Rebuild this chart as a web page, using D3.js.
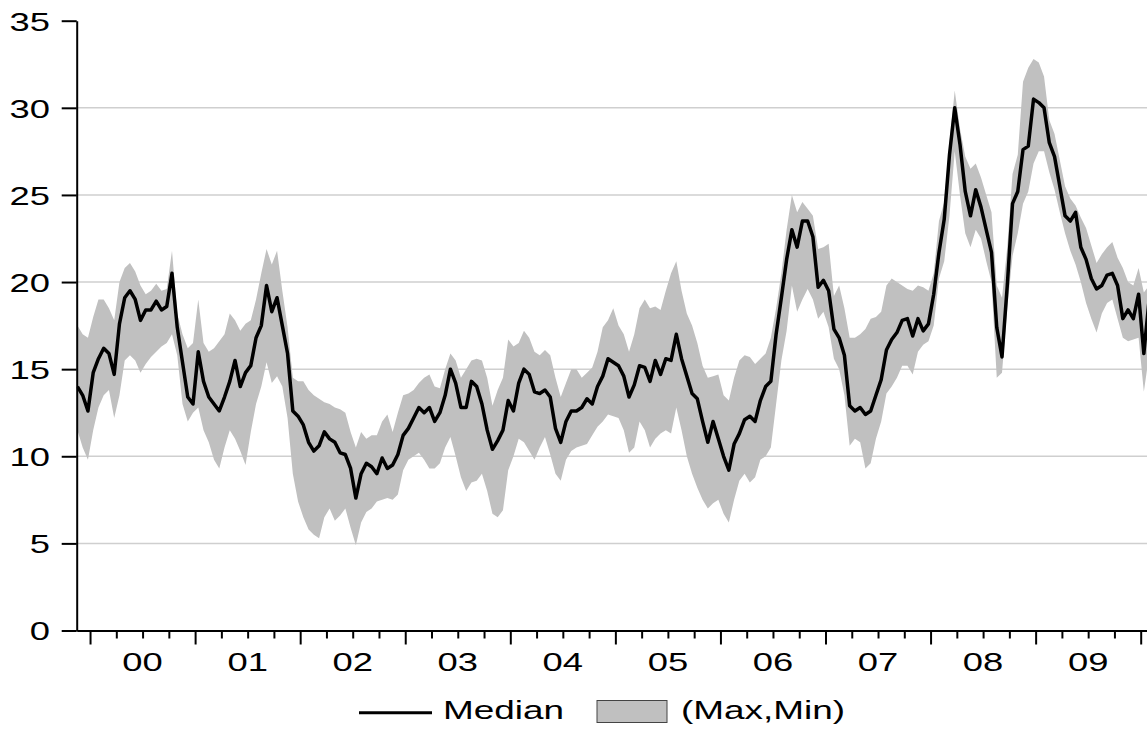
<!DOCTYPE html>
<html>
<head>
<meta charset="utf-8">
<script src="https://cdn.jsdelivr.net/npm/d3@7"></script>
<style>
  body { margin: 0; background: #fff; }
  text { font-family: Arial, "Liberation Sans", sans-serif; fill: #000; }
</style>
</head>
<body>
<script>
// daily series, one value every 0.05 year from late 1999
var startYear = 1999.88;
var stepYears = 0.05;

var median = [
  14.0, 13.5, 12.6, 14.8, 15.6, 16.2, 15.9, 14.7, 17.6, 19.1,
  19.5, 19.0, 17.8, 18.4, 18.4, 18.9, 18.4, 18.6, 20.5, 17.4,
  15.4, 13.4, 13.0, 16.0, 14.3, 13.4, 13.0, 12.6, 13.4, 14.3,
  15.5, 14.0, 14.8, 15.2, 16.8, 17.5, 19.8, 18.3, 19.1, 17.5,
  15.9, 12.6, 12.3, 11.8, 10.8, 10.3, 10.6, 11.4, 11.0, 10.8,
  10.2, 10.1, 9.3, 7.6, 9.0, 9.6, 9.4, 9.0, 9.9, 9.3,
  9.5, 10.1, 11.2, 11.6, 12.2, 12.8, 12.5, 12.8, 12.0, 12.5,
  13.5, 15.0, 14.2, 12.8, 12.8, 14.3, 14.0, 13.0, 11.5, 10.4,
  10.9, 11.5, 13.2, 12.6, 14.2, 15.0, 14.7, 13.7, 13.6, 13.8,
  13.4, 11.6, 10.8, 12.0, 12.6, 12.6, 12.8, 13.3, 13.0, 14.0,
  14.6, 15.6, 15.4, 15.2, 14.6, 13.4, 14.1, 15.2, 15.1, 14.3,
  15.5, 14.7, 15.6, 15.5, 17.0, 15.6, 14.6, 13.6, 13.3, 12.0,
  10.8, 12.0, 11.0, 10.0, 9.2, 10.7, 11.3, 12.1, 12.3, 12.0,
  13.2, 14.0, 14.3, 17.0, 19.1, 21.3, 23.0, 22.0, 23.5, 23.5,
  22.6, 19.7, 20.1, 19.5, 17.3, 16.8, 15.8, 12.9, 12.6, 12.8,
  12.4, 12.6, 13.5, 14.4, 16.1, 16.7, 17.1, 17.8, 17.9, 16.9,
  17.9, 17.2, 17.6, 19.3, 21.7, 23.6, 27.3, 30.0, 27.9, 25.2,
  23.8, 25.3, 24.3, 23.0, 21.7, 17.4, 15.7, 19.8, 24.5, 25.2,
  27.6, 27.8, 30.5, 30.3, 30.0, 28.0, 27.2, 25.5, 23.8, 23.5,
  24.0, 22.0, 21.3, 20.2, 19.6, 19.8, 20.4, 20.5, 19.8, 17.9,
  18.4, 17.9, 19.3, 15.9, 19.0
];

var hi = [
  17.5, 17.0, 16.8, 18.0, 19.0, 19.0, 18.5, 17.8, 20.0, 20.8,
  21.1, 20.6, 19.8, 19.3, 19.5, 19.9, 19.5, 19.6, 21.8, 18.2,
  17.0, 16.2, 16.5, 19.0, 16.5, 16.0, 16.2, 16.6, 17.0, 18.2,
  17.8, 17.2, 17.6, 17.8, 19.0, 20.5, 21.9, 21.0, 21.8, 19.5,
  17.4, 14.5, 14.3, 14.3, 13.8, 13.5, 13.3, 13.1, 13.0, 12.8,
  12.7, 12.5, 11.4, 10.5, 11.4, 11.0, 11.2, 11.2, 12.0, 12.4,
  11.4, 12.5, 13.5, 13.6, 13.8, 14.2, 14.5, 14.7, 14.0, 13.9,
  15.0, 15.9, 15.5, 14.5, 15.0, 15.5, 15.6, 15.5, 14.5, 12.9,
  13.8, 14.5, 16.7, 16.3, 16.5, 17.2, 16.8, 16.0, 15.8, 16.1,
  15.8, 14.5, 13.4, 14.2, 15.0, 15.0, 14.5, 14.8, 15.1, 16.0,
  17.4, 17.8, 18.5, 17.5, 17.0, 16.0, 17.0, 18.5, 19.0, 18.5,
  18.6, 18.4, 19.5, 20.5, 21.2, 19.5, 18.2, 17.5, 16.5, 15.2,
  14.5, 14.6, 14.7, 13.5, 13.2, 14.5, 15.5, 15.8, 15.7, 15.3,
  15.6, 15.9, 16.8, 18.5, 20.5, 23.0, 25.0, 24.0, 24.6, 24.2,
  23.8, 21.9, 22.0, 22.2, 19.2, 19.8, 18.5, 16.8, 16.8, 17.0,
  17.3, 17.9, 18.0, 18.3, 19.8, 20.2, 20.0, 19.8, 19.6, 19.5,
  19.8, 19.7, 19.5, 20.5, 23.5, 24.6, 28.0, 31.0, 28.8, 27.2,
  26.5, 26.8, 26.0, 25.0, 24.0, 19.8, 19.1, 22.0, 26.2, 27.3,
  31.5, 32.3, 32.8, 32.6, 31.8, 29.3, 28.5, 27.0, 25.5, 24.8,
  24.4, 23.7, 23.1, 22.1, 21.1, 21.6, 22.0, 22.3, 21.4, 20.8,
  20.0, 19.8, 20.8, 19.4, 19.8
];

var lo = [
  11.5, 10.5, 9.8, 11.5, 12.8, 13.5, 13.8, 12.2, 13.5, 15.5,
  15.8, 15.5, 14.8, 15.3, 15.7, 16.0, 16.3, 16.5, 17.0, 15.8,
  13.0, 12.0, 12.5, 12.8, 11.5, 10.8, 9.8, 9.3, 10.5, 11.5,
  11.0, 10.3, 9.5, 11.4, 13.0, 14.0, 15.4, 14.2, 14.6, 14.0,
  12.2, 9.0, 7.4, 6.5, 5.8, 5.5, 5.3, 6.5, 7.0, 6.3,
  6.6, 7.0, 5.9, 4.9, 6.2, 6.8, 7.0, 7.4, 7.5, 7.6,
  7.5, 7.8, 9.2, 9.8, 10.0, 10.2, 9.8, 9.3, 9.3, 9.6,
  10.5, 11.1, 10.0, 8.8, 8.0, 8.5, 8.6, 9.0, 8.0, 6.7,
  6.5, 6.9, 9.2, 10.0, 11.0, 10.8, 10.3, 9.8, 10.5, 11.1,
  10.1, 9.0, 8.6, 9.8, 10.3, 10.5, 10.6, 10.7, 11.2, 11.7,
  12.0, 12.4, 12.3, 12.2, 11.5, 10.2, 10.5, 12.0, 11.5, 10.5,
  11.0, 11.3, 11.5, 11.3, 12.8, 11.5, 10.0, 9.0, 8.2, 7.5,
  7.0, 7.3, 7.5, 6.7, 6.2, 7.5, 8.6, 9.0, 8.5, 8.8,
  9.8, 10.0, 10.5, 13.0, 15.5, 17.2, 19.8, 18.3, 19.0, 19.6,
  19.0, 17.9, 18.3, 17.4, 15.6, 15.0, 13.5, 10.6, 11.0, 10.8,
  9.3, 9.6, 11.0, 12.0, 13.6, 14.0, 14.5, 15.2, 15.2, 14.7,
  16.0, 16.4, 16.6, 17.5, 20.2, 21.2, 23.8, 27.5, 25.0, 22.8,
  22.0, 23.0, 22.5, 21.2, 20.0, 14.5, 14.8, 18.5, 21.5, 22.8,
  24.5, 25.2, 26.8, 27.5, 27.5, 26.3, 25.3, 24.0, 22.8, 21.8,
  21.0, 20.0, 18.8, 17.9, 17.1, 18.2, 18.8, 19.0, 17.9, 16.8,
  16.6, 16.7, 16.8, 13.7, 15.8
];

var yTicks = [0, 5, 10, 15, 20, 25, 30, 35];
var gridValues = [5, 10, 15, 20, 25, 30];
var yearTicks = [2000, 2001, 2002, 2003, 2004, 2005, 2006, 2007, 2008, 2009, 2010];
var yearLabels = ["00", "01", "02", "03", "04", "05", "06", "07", "08", "09"];
var legendNames = ["Median", "(Max,Min)"];

var width = 1147, height = 733;
var plotLeft = 76.7, plotRight = 1147, plotTop = 20.7, plotBottom = 630.5;
var stretch = 1.4; // the original text is drawn wide

var data = median.map(function(d, i) {
  return { t: startYear + i * stepYears, m: d, hi: hi[i], lo: lo[i] };
});

var svg = d3.select("body").append("svg")
  .attr("width", width)
  .attr("height", height);

var xScale = d3.scaleLinear().domain([1999.873, 2010.06]).range([plotLeft, plotRight]);
var yScale = d3.scaleLinear().domain([0, 35]).range([plotBottom, plotTop]);

// grid
svg.append("g").selectAll("line")
  .data(gridValues)
  .enter().append("line")
  .attr("x1", plotLeft)
  .attr("x2", plotRight)
  .attr("y1", function(d) { return yScale(d); })
  .attr("y2", function(d) { return yScale(d); })
  .attr("stroke", "#cfcfcf")
  .attr("stroke-width", 1.5);

svg.append("clipPath").attr("id", "plotclip")
  .append("rect")
  .attr("x", plotLeft).attr("y", 0)
  .attr("width", plotRight - plotLeft).attr("height", plotBottom);

var band = d3.area()
  .x(function(d) { return xScale(d.t); })
  .y0(function(d) { return yScale(d.lo); })
  .y1(function(d) { return yScale(d.hi); });

var line = d3.line()
  .x(function(d) { return xScale(d.t); })
  .y(function(d) { return yScale(d.m); });

var plot = svg.append("g").attr("clip-path", "url(#plotclip)");

plot.append("path")
  .datum(data)
  .attr("d", band)
  .attr("fill", "#c0c0c0");

plot.append("path")
  .datum(data)
  .attr("d", line)
  .attr("fill", "none")
  .attr("stroke", "#000")
  .attr("stroke-width", 3.5)
  .attr("stroke-linejoin", "round");

// y axis
var yAxis = d3.axisLeft(yScale).tickValues(yTicks).tickSize(15).tickSizeOuter(0);
var yG = svg.append("g")
  .attr("transform", "translate(" + plotLeft + ",0)")
  .call(yAxis);
yG.select(".domain").attr("stroke-width", 2);
yG.selectAll(".tick line").attr("stroke-width", 2);
yG.selectAll(".tick text")
  .attr("font-size", "26px")
  .attr("x", -26.7 / stretch)
  .attr("dy", null)
  .attr("y", 9.3)
  .attr("transform", "scale(" + stretch + ",1)");

// x axis: years and quarters
var quarterTicks = [];
yearTicks.slice(0, -1).forEach(function(y) {
  quarterTicks.push(y + 0.25, y + 0.5, y + 0.75);
});

var xG = svg.append("g")
  .attr("transform", "translate(0," + plotBottom + ")")
  .call(d3.axisBottom(xScale).tickValues(yearTicks).tickSize(14).tickSizeOuter(0).tickFormat(""));
xG.select(".domain").attr("stroke-width", 2);
xG.selectAll(".tick line").attr("stroke-width", 2);

var xMinor = svg.append("g")
  .attr("transform", "translate(0," + plotBottom + ")")
  .call(d3.axisBottom(xScale).tickValues(quarterTicks).tickSize(8).tickSizeOuter(0).tickFormat(""));
xMinor.select(".domain").remove();
xMinor.selectAll(".tick line").attr("stroke-width", 2);

svg.append("g").selectAll("text")
  .data(yearLabels)
  .enter().append("text")
  .attr("transform", function(d, i) {
    return "translate(" + xScale(yearTicks[i] + 0.5) + ",671) scale(" + stretch + ",1)";
  })
  .attr("text-anchor", "middle")
  .attr("font-size", "26px")
  .text(function(d) { return d; });

// legend
var legend = svg.append("g");
legend.append("line")
  .attr("x1", 359).attr("x2", 432)
  .attr("y1", 712.7).attr("y2", 712.7)
  .attr("stroke", "#000")
  .attr("stroke-width", 3);
legend.append("text")
  .attr("transform", "translate(443,719.3) scale(1.42,1)")
  .attr("font-size", "26px")
  .text(legendNames[0]);
legend.append("rect")
  .attr("x", 597).attr("y", 700.5)
  .attr("width", 70).attr("height", 22)
  .attr("fill", "#c0c0c0")
  .attr("stroke", "#444")
  .attr("stroke-width", 1);
legend.append("text")
  .attr("transform", "translate(681,719.3) scale(1.42,1)")
  .attr("font-size", "26px")
  .text(legendNames[1]);
</script>
</body>
</html>
